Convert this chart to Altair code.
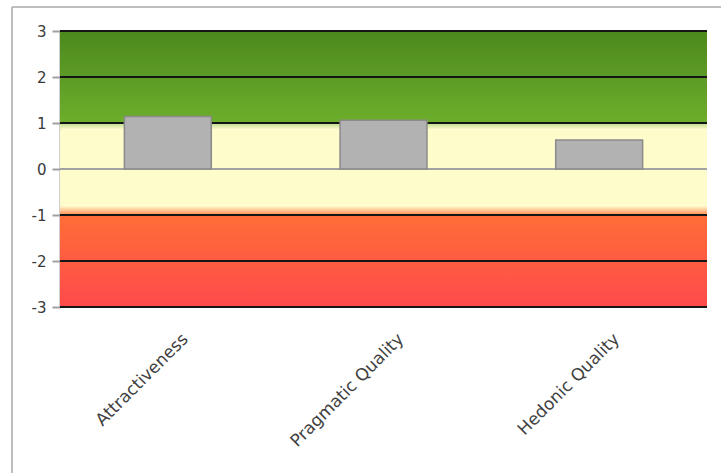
import altair as alt
import pandas as pd

# Scale means per UEQ dimension
dimensions = ["Attractiveness", "Pragmatic Quality", "Hedonic Quality"]
means = [1.14, 1.06, 0.63]

# Gridlines of the benchmark bands
grid_values = [3, 2, 1, -1, -2, -3]
tick_values = [3, 2, 1, 0, -1, -2, -3]

# Background bands: (lower, upper, colour at top, colour at bottom)
band_lo = [1.0, 0.86, -0.80, -1.0, -3.0]
band_hi = [3.0, 1.0, 0.86, -0.80, -1.0]
band_top = ["#4c891e", "#b9d889", "#fffccc", "#fffccc", "#ff6d37"]
band_bottom = ["#6dae2c", "#fffccc", "#fffccc", "#ff8d55", "#ff4a4c"]

W, H = 647, 276

bars_df = pd.DataFrame({"dim": dimensions, "mean": means})
grid_df = pd.DataFrame({"v": grid_values})
zero_df = pd.DataFrame({"v": [0]})

yscale = alt.Scale(domain=[-3, 3], nice=False, zero=False)
xscale = alt.Scale(domain=dimensions, paddingInner=0.597, paddingOuter=0.2985)

yaxis = alt.Axis(
    values=tick_values,
    labelExpr="'' + datum.value",
    grid=False,
    domainColor="#a0a0a0",
    domainWidth=2,
    tickColor="#a0a0a0",
    tickWidth=2,
    tickSize=8,
    labelFont="DejaVu Sans",
    labelFontSize=15,
    labelColor="#3a3a3a",
    labelPadding=6,
)

layers = []
for lo, hi, c1, c2 in zip(band_lo, band_hi, band_top, band_bottom):
    grad = alt.Gradient(
        gradient="linear",
        x1=0, x2=0, y1=0, y2=1,
        stops=[alt.GradientStop(color=c1, offset=0),
               alt.GradientStop(color=c2, offset=1)],
    )
    layers.append(
        alt.Chart(pd.DataFrame({"lo": [lo], "hi": [hi]}))
        .mark_rect(fill=grad, strokeWidth=0)
        .encode(
            x=alt.value(0), x2=alt.value(W),
            y=alt.Y("hi:Q", scale=yscale, axis=yaxis, title=None),
            y2="lo:Q",
        )
    )

grid = (
    alt.Chart(grid_df)
    .mark_rule(color="#151515", strokeWidth=2)
    .encode(x=alt.value(0), x2=alt.value(W),
            y=alt.Y("v:Q", scale=yscale, axis=yaxis, title=None))
)

zero_line = (
    alt.Chart(zero_df)
    .mark_rule(color="#a3a3a3", strokeWidth=2)
    .encode(x=alt.value(0), x2=alt.value(W),
            y=alt.Y("v:Q", scale=yscale, axis=yaxis, title=None))
)

bars = (
    alt.Chart(bars_df)
    .mark_bar(color="#b2b2b2", stroke="#8a8a8a", strokeWidth=1.5)
    .encode(
        x=alt.X("dim:N", sort=dimensions, title=None, scale=xscale, axis=None),
        y=alt.Y("mean:Q", scale=yscale, axis=yaxis, title=None),
    )
)

# Category names, rotated below the plot
cat_labels = (
    alt.Chart(bars_df)
    .mark_text(
        angle=315,
        align="right",
        baseline="top",
        font="DejaVu Sans",
        fontSize=17,
        color="#404040",
        xOffset=12,
    )
    .encode(
        x=alt.X("dim:N", sort=dimensions, scale=xscale),
        y=alt.value(H + 24),
        text="dim:N",
    )
)

# Outer frame (top and left edges)
frame_top = alt.Chart(zero_df).mark_rule(color="#a8a8a8", strokeWidth=1.5).encode(
    x=alt.value(-48), x2=alt.value(W + 20), y=alt.value(-24)
)
frame_left = alt.Chart(zero_df).mark_rule(color="#a8a8a8", strokeWidth=1.5).encode(
    x=alt.value(-48), y=alt.value(-24), y2=alt.value(H + 170)
)

chart = (
    alt.layer(*layers, grid, zero_line, bars, cat_labels, frame_top, frame_left)
    .properties(
        width=W,
        height=H,
        autosize=alt.AutoSizeParams(type="none"),
        padding={"left": 60, "top": 31, "right": 14, "bottom": 166},
        background="white",
    )
    .configure_view(stroke=None)
)

chart.save("out.html", embed_options={"renderer": "svg", "actions": False})
